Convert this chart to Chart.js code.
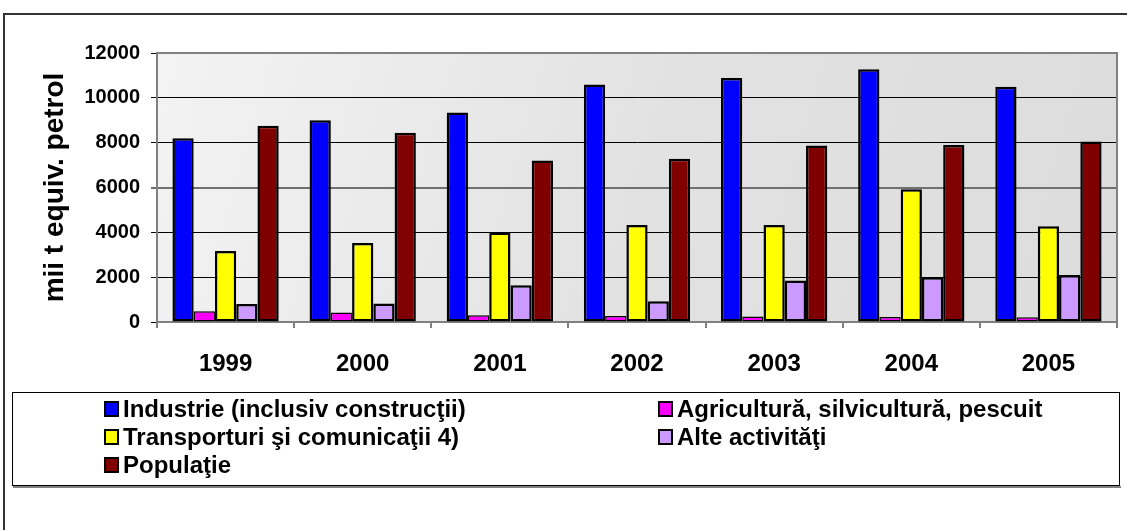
<!DOCTYPE html>
<html>
<head>
<meta charset="utf-8">
<script src="https://cdn.jsdelivr.net/npm/chart.js@4"></script>
<style>
  body { margin: 0; background: #fff; }
  #wrap { position: absolute; left: 0; top: 0; width: 1127px; height: 530px; }
</style>
</head>
<body>
<div id="wrap"><canvas id="my-chart"></canvas></div>
<script>
// valori (mii t equiv. petrol)
const years = ['1999', '2000', '2001', '2002', '2003', '2004', '2005'];
const industrie = [8200, 9000, 9350, 10600, 10880, 11270, 10500];
const agricultura = [480, 420, 300, 270, 240, 220, 210];
const transporturi = [3170, 3520, 3990, 4330, 4330, 5920, 4270];
const alteActivitati = [800, 830, 1640, 930, 1850, 2000, 2100];
const populatie = [8750, 8440, 7200, 7280, 7870, 7900, 8050];
const yTicks = [0, 2000, 4000, 6000, 8000, 10000, 12000];

const seriesNames = [
  'Industrie (inclusiv construcţii)',
  'Agricultură, silvicultură, pescuit',
  'Transporturi şi comunicaţii 4)',
  'Alte activităţi',
  'Populaţie'
];
const seriesColors = ['#0000ff', '#ff00ff', '#ffff00', '#cc99ff', '#800000'];
const seriesData = [industrie, agricultura, transporturi, alteActivitati, populatie];

// fundal gri cu gradient + chenar
const plotBackground = {
  id: 'plotBackground',
  beforeDraw(chart) {
    const { ctx, chartArea: a } = chart;
    const g = ctx.createLinearGradient(a.left, a.top, a.right, a.bottom);
    g.addColorStop(0, '#f3f3f3');
    g.addColorStop(0.5, '#e2e2e2');
    g.addColorStop(1, '#dcdcdc');
    ctx.save();
    ctx.fillStyle = g;
    ctx.fillRect(a.left, a.top, a.right - a.left, a.bottom - a.top);
    ctx.restore();
  },
  afterDraw(chart) {
    const { ctx, chartArea: a } = chart;
    ctx.save();
    ctx.strokeStyle = '#808080';
    ctx.lineWidth = 2;
    ctx.beginPath();
    ctx.moveTo(a.left, a.top);
    ctx.lineTo(a.right, a.top);
    ctx.lineTo(a.right, a.bottom);
    ctx.stroke();
    // chenarul exterior
    ctx.strokeStyle = '#333';
    ctx.beginPath();
    ctx.moveTo(1127, 14);
    ctx.lineTo(4, 14);
    ctx.lineTo(4, 530);
    ctx.stroke();
    ctx.restore();
  }
};

// legenda pe doua coloane, in caseta
const boxLegend = {
  id: 'boxLegend',
  afterDraw(chart) {
    const ctx = chart.ctx;
    ctx.save();
    ctx.fillStyle = '#808080';
    ctx.fillRect(13, 486, 1108, 2);
    ctx.strokeStyle = '#000';
    ctx.lineWidth = 1;
    ctx.strokeRect(12.5, 392.5, 1107, 93);
    const spots = [[105, 409], [659, 409], [105, 437], [659, 437], [105, 465]];
    ctx.font = 'bold 24px Arial, "Liberation Sans", sans-serif';
    ctx.textBaseline = 'middle';
    chart.data.datasets.forEach((ds, i) => {
      const [x, y] = spots[i];
      ctx.fillStyle = ds.backgroundColor;
      ctx.fillRect(x, y - 7, 13, 14);
      ctx.lineWidth = 2;
      ctx.strokeStyle = '#000';
      ctx.strokeRect(x, y - 7, 13, 14);
      ctx.fillStyle = '#000';
      ctx.fillText(ds.label, x + 18, y + 1);
    });
    ctx.restore();
  }
};

const ctx = document.getElementById('my-chart').getContext('2d');
const chart = new Chart(ctx, {
  type: 'bar',
  data: {
    labels: years,
    datasets: seriesNames.map((name, i) => ({
      label: name,
      data: seriesData[i],
      backgroundColor: seriesColors[i],
      borderColor: '#000',
      borderWidth: i === 1 ? 1.5 : 2.5,
      borderSkipped: false,
      barPercentage: 1,
      categoryPercentage: 0.775
    }))
  },
  options: {
    responsive: true,
    maintainAspectRatio: false,
    animation: false,
    devicePixelRatio: 1,
    layout: { padding: { left: 26, top: 53, right: 10, bottom: 0 } },
    plugins: { legend: { display: false }, tooltip: { enabled: false } },
    scales: {
      x: {
        grid: { drawOnChartArea: false, drawTicks: true, tickLength: 6, color: '#808080', lineWidth: 2, offset: true },
        border: { color: '#808080', width: 2 },
        ticks: { color: '#000', padding: 22, font: { family: 'Arial', size: 24, weight: 'bold' } },
        afterFit: s => { s.height = 208; }
      },
      y: {
        min: yTicks[0],
        max: yTicks[yTicks.length - 1],
        afterBuildTicks: s => { s.ticks = yTicks.map(v => ({ value: v })); },
        grid: {
          color: c => (c.tick && c.tick.value === 6000 ? '#707070' : '#000'),
          lineWidth: c => (c.tick && c.tick.value === 6000 ? 2 : 1),
          tickLength: 6
        },
        border: { color: '#808080', width: 2 },
        ticks: {
          color: '#000',
          padding: 11,
          font: { family: 'Arial', size: 20, weight: 'bold' },
          callback: v => String(v)
        },
        title: {
          display: true,
          text: 'mii t equiv. petrol',
          color: '#000',
          font: { family: 'Arial', size: 28, weight: 'bold' },
          padding: { top: 12, bottom: 0 }
        },
        afterFit: s => { s.width = 131; }
      }
    }
  },
  plugins: [plotBackground, boxLegend]
});
</script>
</body>
</html>
